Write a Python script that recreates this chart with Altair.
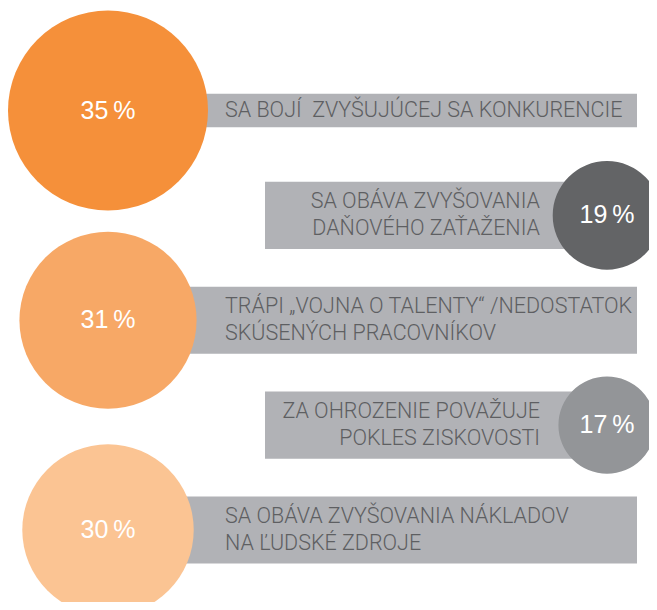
import altair as alt
import pandas as pd

# ---- data ----
values = [35, 19, 31, 17, 30]
labels = [
    "SA BOJÍ\u00a0 ZVYŠUJÚCEJ SA KONKURENCIE",
    "SA OBÁVA ZVYŠOVANIA\nDAŇOVÉHO ZAŤAŽENIA",
    "TRÁPI „VOJNA O TALENTY“ /NEDOSTATOK\nSKÚSENÝCH PRACOVNÍKOV",
    "ZA OHROZENIE POVAŽUJE\nPOKLES ZISKOVOSTI",
    "SA OBÁVA ZVYŠOVANIA NÁKLADOV\nNA ĽUDSKÉ ZDROJE",
]
sides = ["left", "right", "left", "right", "left"]

# ---- styles ----
palette = ["#F5903A", "#636466", "#F7A866", "#939598", "#FBC493"]
BAR_COLOR = "#B1B2B6"
TEXT_COLOR = "#5E5F62"
PCT_FONT = "Liberation Sans"
LABEL_FONT = "Roboto"
LINE_H = 27

W, H = 641, 594
ROW_PX = 104.875
Y0 = -102.5 / ROW_PX

df = pd.DataFrame({
    "row": list(range(len(values))),
    "value": values,
    "label": labels,
    "side": sides,
})
df["pct"] = [f"{v}\u2009%" for v in values]
df["lines"] = [lab.count("\n") + 1 for lab in labels]

xs = alt.Scale(domain=[0, W], nice=False, zero=False)
ys = alt.Scale(domain=[Y0, Y0 + H / ROW_PX], nice=False, zero=False, reverse=True)

base = alt.Chart(df).transform_calculate(
    cx="datum.side == 'left' ? 100 : 599",
    bx1="datum.side == 'left' ? 100 : 257",
    bx2="datum.side == 'left' ? 629 : 599",
    tx="datum.side == 'left' ? 217 : 532",
    y1="datum.row - datum.lines * 0.16",
    y2="datum.row + datum.lines * 0.16",
)

bars = base.mark_rect(color=BAR_COLOR).encode(
    x=alt.X("bx1:Q", scale=xs, axis=None),
    x2="bx2:Q",
    y=alt.Y("y1:Q", scale=ys, axis=None),
    y2="y2:Q",
)

# symbol size = bounding-box area -> (2r)^2 ; r = 100 px at 35 %
circles = base.mark_circle(opacity=1).encode(
    x=alt.X("cx:Q", scale=xs, axis=None),
    y=alt.Y("row:Q", scale=ys, axis=None),
    size=alt.Size("value:Q", scale=alt.Scale(type="pow", exponent=2, domain=[0, 35], range=[0, 40000]), legend=None),
    color=alt.Color("label:N", scale=alt.Scale(domain=labels, range=palette), legend=None),
)

pct = base.mark_text(color="white", font=PCT_FONT, fontSize=25, align="center", baseline="middle").encode(
    x=alt.X("cx:Q", scale=xs, axis=None),
    y=alt.Y("row:Q", scale=ys, axis=None),
    text="pct:N",
)


def label_layer(side, align, nlines):
    return base.transform_filter(
        f"datum.side == '{side}' && datum.lines == {nlines}"
    ).mark_text(
        color=TEXT_COLOR, font=LABEL_FONT, fontWeight=300, fontSize=21.5, align=align, baseline="middle",
        lineBreak="\n", lineHeight=LINE_H, dy=-(nlines - 1) * LINE_H / 2,
    ).encode(
        x=alt.X("tx:Q", scale=xs, axis=None),
        y=alt.Y("row:Q", scale=ys, axis=None),
        text="label:N",
    )


chart = alt.layer(
    bars, circles, pct,
    label_layer("left", "left", 1),
    label_layer("left", "left", 2),
    label_layer("right", "right", 2),
).properties(
    width=W, height=H, padding=0, autosize=alt.AutoSizeParams(type="none"),
    background="white",
).configure_view(stroke=None)

chart.save("out.html", embed_options={"renderer": "svg", "actions": False})
